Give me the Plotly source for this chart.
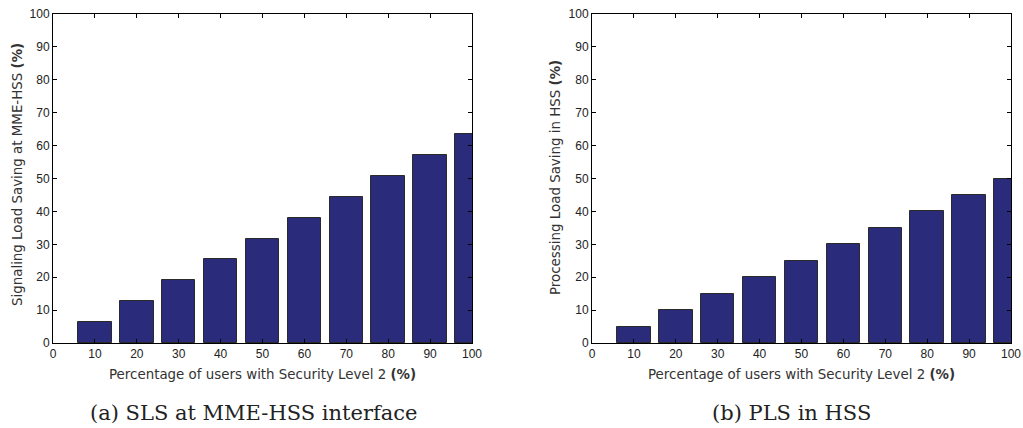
import plotly.graph_objects as go

W, H = 1023, 428
x_pct = [10, 20, 30, 40, 50, 60, 70, 80, 90, 100]
sls_values = [6.3, 12.7, 19.1, 25.4, 31.7, 38.1, 44.4, 50.8, 57.1, 63.5]
pls_values = [5, 10, 15, 20, 25, 30, 35, 40, 45, 50]
x_ticks = [0, 10, 20, 30, 40, 50, 60, 70, 80, 90, 100]
y_ticks = [0, 10, 20, 30, 40, 50, 60, 70, 80, 90, 100]
x_title = "Percentage of users with Security Level 2 <b>(%)</b>"
y_title_a = "Signaling Load Saving at MME-HSS <b>(%)</b>"
y_title_b = "Processing Load Saving in HSS <b>(%)</b>"
caption_a = "(a) SLS at MME-HSS interface"
caption_b = "(b) PLS in HSS"

bar_color = "#2b2b7b"
edge_color = "#2a2a2a"

fig = go.Figure()
fig.add_trace(go.Bar(x=x_pct, y=sls_values, width=8, marker=dict(color=bar_color, line=dict(color=edge_color, width=1)),
                     xaxis="x", yaxis="y", showlegend=False))
fig.add_trace(go.Bar(x=x_pct, y=pls_values, width=8, marker=dict(color=bar_color, line=dict(color=edge_color, width=1)),
                     xaxis="x2", yaxis="y2", showlegend=False))

tick_font = dict(family="Liberation Sans, Arial, sans-serif", size=12, color="#222222")
title_font = dict(family="DejaVu Sans, sans-serif", size=13.4, color="#333333")

def xax(domain, anchor):
    return dict(domain=domain, anchor=anchor, range=[0, 100], tickvals=x_ticks, automargin=False,
                ticks="inside", ticklen=4, tickcolor="black", showline=True, linecolor="black",
                linewidth=1, mirror="allticks", showgrid=False, zeroline=False, tickfont=tick_font)

def yax(domain, anchor):
    return dict(domain=domain, anchor=anchor, range=[0, 100], tickvals=y_ticks, automargin=False,
                ticks="inside", ticklen=4, tickcolor="black", showline=True, linecolor="black",
                linewidth=1, mirror="allticks", showgrid=False, zeroline=False, tickfont=tick_font)

ydom = [1 - 343 / H, 1 - 14 / H]
cap_font = dict(family="DejaVu Serif, serif", size=21, color="#222222")

def ann(text, x, y, font, angle=0):
    return dict(text=text, x=x / W, y=1 - y / H, xref="paper", yref="paper", textangle=angle,
                xanchor="center", yanchor="middle", showarrow=False, font=font)

fig.update_layout(
    width=W, height=H, margin=dict(l=0, r=0, t=0, b=0),
    paper_bgcolor="white", plot_bgcolor="white", bargap=0,
    xaxis=xax([53 / W, 472 / W], "y"),
    yaxis=yax(ydom, "x"),
    xaxis2=xax([592 / W, 1011 / W], "y2"),
    yaxis2=yax(ydom, "x2"),
    annotations=[
        ann(x_title, 262.5, 374, title_font),
        ann(x_title, 801.5, 374, title_font),
        ann(y_title_a, 17, 175, title_font, -90),
        ann(y_title_b, 555, 178, title_font, -90),
        ann(caption_a, 253, 413, cap_font),
        ann(caption_b, 791, 413, cap_font),
    ],
)

fig.write_html("out.html")
